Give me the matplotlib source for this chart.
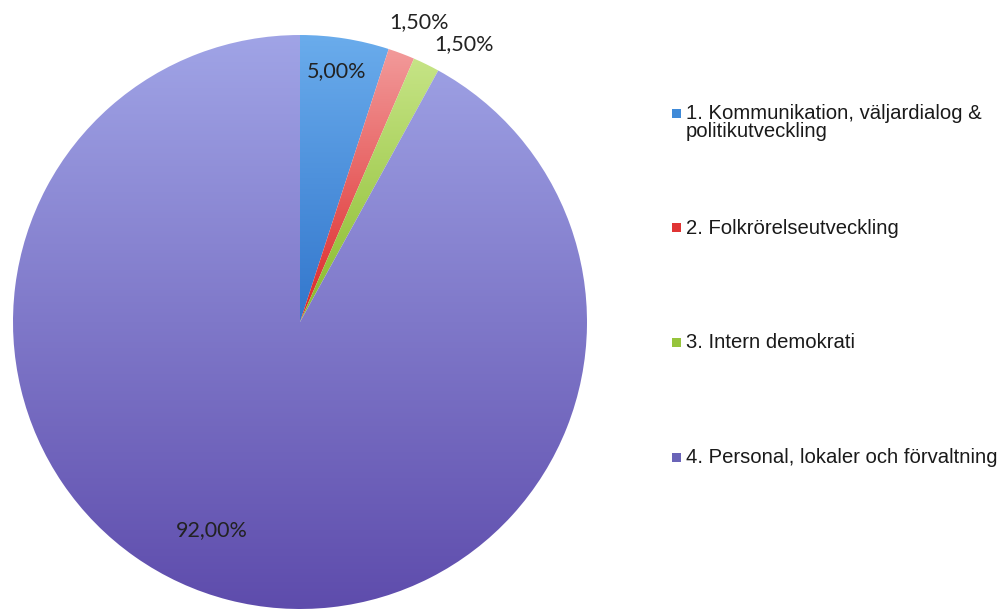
import numpy as np
import matplotlib.pyplot as plt
from matplotlib.colors import LinearSegmentedColormap
from matplotlib.patches import Rectangle

# data
categories = ['1. Kommunikation, väljardialog &\npolitikutveckling',
              '2. Folkrörelseutveckling',
              '3. Intern demokrati',
              '4. Personal, lokaler och förvaltning']
shares = [5.0, 1.5, 1.5, 92.0]
pct_labels = ['5,00%', '1,50%', '1,50%', '92,00%']

# gradient fills (top colour, bottom colour)
top_colors = ['#6aacec', '#f29a9a', '#c6e486', '#a0a4e6']
bottom_colors = ['#3276cc', '#dc2626', '#88ba2a', '#5e4cac']
legend_colors = ['#3f8ad8', '#e03434', '#96c43c', '#6a64b8']

# label positions in axes data units (pie radius = 1)
label_pos = [(0.128, 0.875), (0.415, 1.045), (0.57, 0.968), (-0.307, -0.725)]

W, H = 1002, 610
fig = plt.figure(figsize=(W / 100, H / 100), dpi=100)
r_px = 287
cx, cy = 300, 322
ax = fig.add_axes([(cx - r_px) / W, (H - cy - r_px) / H, 2 * r_px / W, 2 * r_px / H])

wedges, _ = ax.pie(shares, startangle=90, counterclock=False, radius=1,
                   colors=['none'] * 4, wedgeprops=dict(linewidth=0))
ax.set_aspect('equal')
ax.axis('off')

grad = np.linspace(1, 0, 256).reshape(-1, 1)
for w, c_top, c_bot in zip(wedges, top_colors, bottom_colors):
    ext = w.get_path().get_extents(w.get_patch_transform())
    cmap = LinearSegmentedColormap.from_list('g', [c_bot, c_top])
    im = ax.imshow(grad, cmap=cmap, aspect='auto', vmin=0, vmax=1,
                   extent=[ext.x0, ext.x1, ext.y0, ext.y1], zorder=1)
    im.set_clip_path(w)

ax.set_xlim(-1, 1)
ax.set_ylim(-1, 1)

for txt, (x, y) in zip(pct_labels, label_pos):
    ax.text(x, y, txt, ha='center', va='center', fontsize=15.5,
            family='Lato', color='#222222', zorder=5, clip_on=False)

# legend drawn by hand
legend_y = [113, 228, 342, 457]
for lab, col, ly in zip(categories, legend_colors, legend_y):
    fig.patches.append(Rectangle((672 / W, 1 - (ly + 4.5) / H), 9 / W, 9 / H,
                                 transform=fig.transFigure, facecolor=col,
                                 edgecolor='none'))
    fig.text(686 / W, 1 - (ly - 9) / H, lab, ha='left', va='top',
             fontsize=14.6, family='Liberation Sans', color='#1a1a1a',
             linespacing=0.95)

fig.savefig('out.png', dpi=100)
